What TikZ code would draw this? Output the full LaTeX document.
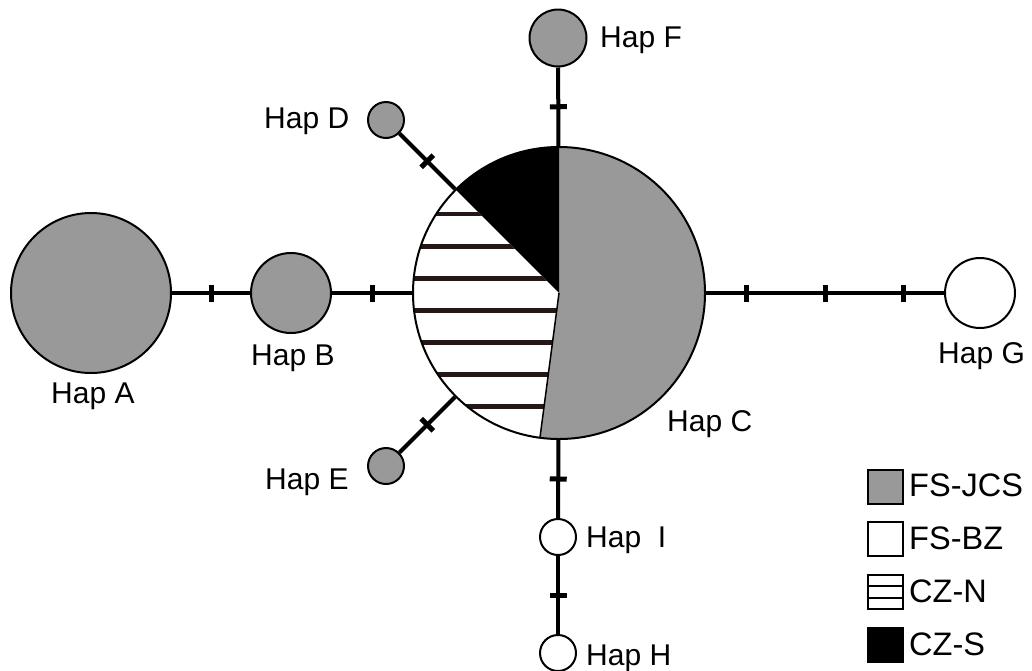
\documentclass[tikz,border=0pt]{standalone}
\usepackage{fontspec}
\setmainfont{Liberation Sans}
\definecolor{hapgray}{HTML}{999999}
\definecolor{hatchcol}{HTML}{231815}
\begin{document}
\begin{tikzpicture}[x=1pt,y=-1pt,
  hap/.style={circle,draw=black,line width=2pt,inner sep=0pt,minimum size=#1},
  gr/.style={fill=hapgray},
  wh/.style={fill=white},
  link/.style={line width=4pt},
  tick/.style={sloped,fill=black,inner sep=0pt,minimum width=5pt,minimum height=17pt},
  lab/.style={anchor=base west,inner sep=0pt,font=\fontsize{30}{36}\selectfont},
  leglab/.style={anchor=base west,inner sep=0pt,font=\fontsize{32.5}{40}\selectfont},
  legbox/.style={draw=black,line width=2pt,inner sep=0pt,minimum width=35pt,minimum height=34pt}]
\useasboundingbox (0,0) rectangle (1032,670);
% central pie sectors
\coordinate (Cc) at (559,293);
\fill[hapgray] (Cc) -- ++(-90:146) arc[start angle=-90,end angle=97.5,radius=146] -- cycle;
\fill[black] (Cc) -- ++(-135:146) arc[start angle=-135,end angle=-90,radius=146] -- cycle;
\begin{scope}
  \clip (Cc) -- ++(97.5:146) arc[start angle=97.5,end angle=225,radius=146] -- cycle;
  \foreach \yy in {214,246.5,278.5,310.5,342.5,374.5,406.5}
    \draw[hatchcol,line width=4.5pt] (400,\yy) -- (570,\yy);
\end{scope}
\draw[line width=1.5pt] (Cc) -- ++(97.5:146);
\node[hap=292pt] (C) at (559,293) {};
% other haplotypes
\node[hap=160pt,gr] (A) at (91,293) {};
\node[hap=80pt,gr] (B) at (291,293) {};
\node[hap=36pt,gr] (D) at (386,120) {};
\node[hap=36pt,gr] (E) at (386,466) {};
\node[hap=57pt,gr] (F) at (558,38) {};
\node[hap=70pt,wh] (G) at (980,293) {};
\node[hap=36pt,wh] (I) at (558,537) {};
\node[hap=36pt,wh] (H) at (558,653) {};
% links
\draw[link] (A) -- node[tick]{} (B);
\draw[link] (B) -- node[tick]{} (C);
\draw[link] (C) -- node[tick,pos=0.17]{} node[tick,pos=0.5]{} node[tick,pos=0.83]{} (G);
\draw[link] (C) -- node[tick]{} (F);
\draw[link] (C) -- node[tick]{} (D);
\draw[link] (C) -- node[tick]{} (E);
\draw[link] (C) -- node[tick]{} (I);
\draw[link] (I) -- node[tick]{} (H);
% labels
\node[lab] (lA) at (51,403) {Hap A};
\node[lab] (lB) at (251,365) {Hap B};
\node[lab] (lC) at (667,431) {Hap C};
\node[lab] (lD) at (264,128) {Hap D};
\node[lab] (lE) at (265,489) {Hap E};
\node[lab] (lF) at (600,47) {Hap F};
\node[lab] (lG) at (938,363) {Hap G};
\node[lab] (lI) at (586,547) {Hap\ \ I};
\node[lab] (lH) at (586,665) {Hap H};
% legend
\node[legbox,fill=hapgray] (k1) at (885,487) {};
\node[legbox,fill=white] (k2) at (885,539) {};
\node[legbox,fill=white] (k3) at (885,592) {};
\draw[line width=2pt] (k3.west |- 0,586.3) -- (k3.east |- 0,586.3);
\draw[line width=2pt] (k3.west |- 0,597.7) -- (k3.east |- 0,597.7);
\node[legbox,fill=black] (k4) at (885,645) {};
\node[leglab] (t1) at (909,496) {FS-JCS};
\node[leglab] (t2) at (909,549) {FS-BZ};
\node[leglab] (t3) at (909,602) {CZ-N};
\node[leglab] (t4) at (909,655) {CZ-S};
\end{tikzpicture}
\end{document}
